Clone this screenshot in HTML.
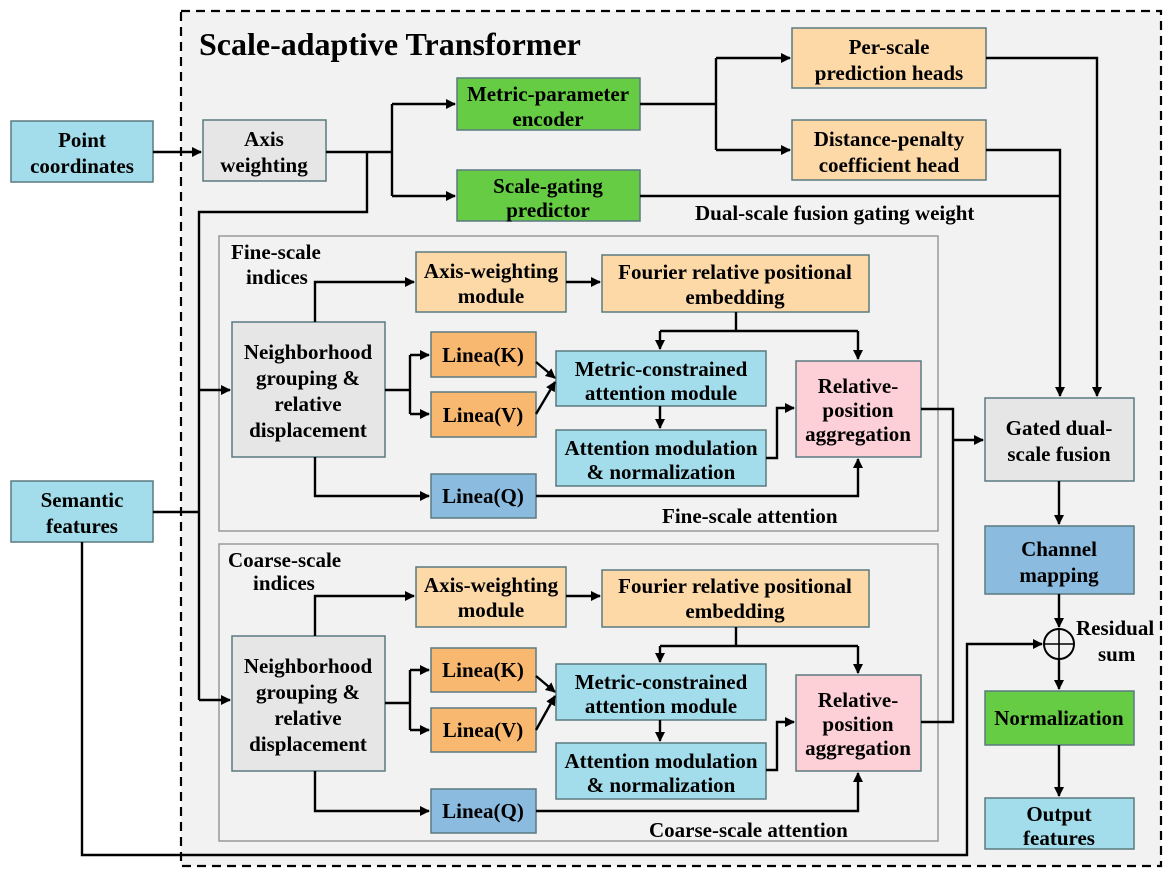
<!DOCTYPE html>
<html><head><meta charset="utf-8"><style>
html,body{margin:0;padding:0;background:#fff}
svg text{font-family:"Liberation Serif","DejaVu Serif",serif;font-weight:bold;fill:#000}
</style></head><body>
<svg width="1173" height="877" viewBox="0 0 1173 877" xmlns="http://www.w3.org/2000/svg" font-family="Liberation Serif, DejaVu Serif, serif">
<defs><marker id="a" markerWidth="10" markerHeight="10" refX="9" refY="5" orient="auto" markerUnits="userSpaceOnUse"><path d="M0,0 L10,5 L0,10 z" fill="#000"/></marker></defs>
<rect x="181" y="11" width="980" height="855" fill="#f2f2f2" stroke="#000" stroke-width="2.2" stroke-dasharray="9,6"/>
<text x="199" y="55" font-size="32">Scale-adaptive Transformer</text>
<rect x="219" y="236" width="719" height="295" fill="#f2f2f2" stroke="#999" stroke-width="1.5"/>
<rect x="219" y="544" width="719" height="297" fill="#f2f2f2" stroke="#999" stroke-width="1.5"/>
<g stroke="#5a7a80" stroke-width="1.5">
<rect x="11" y="121" width="142" height="61" fill="#a3dcea"/>
<rect x="11" y="481" width="142" height="61" fill="#a3dcea"/>
<rect x="203" y="120" width="123" height="61" fill="#e6e6e6"/>
<rect x="457" y="78" width="183" height="52" fill="#66cc44"/>
<rect x="457" y="170" width="183" height="51" fill="#66cc44"/>
<rect x="792" y="28" width="194" height="60" fill="#fdd9a8"/>
<rect x="792" y="120" width="194" height="60" fill="#fdd9a8"/>
<rect x="416" y="252" width="150" height="60" fill="#fdd9a8"/>
<rect x="602" y="255" width="267" height="57" fill="#fdd9a8"/>
<rect x="232" y="322" width="153" height="135" fill="#e6e6e6"/>
<rect x="431" y="332" width="105" height="45" fill="#f9b870"/>
<rect x="431" y="392" width="105" height="45" fill="#f9b870"/>
<rect x="556" y="351" width="210" height="55" fill="#a3dcea"/>
<rect x="556" y="430" width="210" height="56" fill="#a3dcea"/>
<rect x="796" y="361" width="125" height="96" fill="#fdd0d8"/>
<rect x="431" y="474" width="105" height="44" fill="#8cbbe0"/>
<rect x="416" y="567" width="150" height="60" fill="#fdd9a8"/>
<rect x="602" y="570" width="267" height="57" fill="#fdd9a8"/>
<rect x="232" y="636" width="153" height="135" fill="#e6e6e6"/>
<rect x="431" y="648" width="105" height="44" fill="#f9b870"/>
<rect x="431" y="708" width="105" height="44" fill="#f9b870"/>
<rect x="556" y="664" width="210" height="56" fill="#a3dcea"/>
<rect x="556" y="743" width="210" height="56" fill="#a3dcea"/>
<rect x="796" y="675" width="125" height="96" fill="#fdd0d8"/>
<rect x="431" y="789" width="105" height="44" fill="#8cbbe0"/>
<rect x="985" y="398" width="149" height="83" fill="#e6e6e6"/>
<rect x="985" y="526" width="149" height="68" fill="#8cbbe0"/>
<rect x="985" y="691" width="149" height="54" fill="#66cc44"/>
<rect x="985" y="798" width="149" height="51" fill="#a3dcea"/>
</g>
<g fill="none" stroke="#000" stroke-width="2.4">
<path d="M153,152 H201" marker-end="url(#a)"/>
<path d="M326,152 H392 M392,104 V196"/>
<path d="M392,104 H455" marker-end="url(#a)"/>
<path d="M392,196 H455" marker-end="url(#a)"/>
<path d="M367,152 V212 H199 V700"/>
<path d="M153,512 H199"/>
<path d="M199,390 H230" marker-end="url(#a)"/>
<path d="M199,700 H230" marker-end="url(#a)"/>
<path d="M640,104 H716 M716,58 V150"/>
<path d="M716,58 H790" marker-end="url(#a)"/>
<path d="M716,150 H790" marker-end="url(#a)"/>
<path d="M986,58 H1097 V396" marker-end="url(#a)"/>
<path d="M986,150 H1060 V396" marker-end="url(#a)"/>
<path d="M640,196 H1060"/>
<path d="M315,322 V282 H414" marker-end="url(#a)"/>
<path d="M566,282 H600" marker-end="url(#a)"/>
<path d="M736,312 V331 M660,331 H858"/>
<path d="M660,331 V349" marker-end="url(#a)"/>
<path d="M858,331 V359" marker-end="url(#a)"/>
<path d="M385,390 H410 M410,355 V414"/>
<path d="M410,355 H429" marker-end="url(#a)"/>
<path d="M410,414 H429" marker-end="url(#a)"/>
<path d="M536,362 L555,378" marker-end="url(#a)"/>
<path d="M536,414 L555,382" marker-end="url(#a)"/>
<path d="M660,406 V428" marker-end="url(#a)"/>
<path d="M766,458 H777 V408 H794" marker-end="url(#a)"/>
<path d="M315,457 V496 H429" marker-end="url(#a)"/>
<path d="M536,496 H858 V459" marker-end="url(#a)"/>
<path d="M315,636 V596 H414" marker-end="url(#a)"/>
<path d="M566,596 H600" marker-end="url(#a)"/>
<path d="M736,627 V646 M660,646 H858"/>
<path d="M660,646 V662" marker-end="url(#a)"/>
<path d="M858,646 V673" marker-end="url(#a)"/>
<path d="M385,703 H410 M410,670 V730"/>
<path d="M410,670 H429" marker-end="url(#a)"/>
<path d="M410,730 H429" marker-end="url(#a)"/>
<path d="M536,676 L555,692" marker-end="url(#a)"/>
<path d="M536,730 L555,696" marker-end="url(#a)"/>
<path d="M660,720 V741" marker-end="url(#a)"/>
<path d="M766,770 H777 V722 H794" marker-end="url(#a)"/>
<path d="M315,771 V811 H429" marker-end="url(#a)"/>
<path d="M536,811 H858 V773" marker-end="url(#a)"/>
<path d="M921,409 H953 V722 H921"/>
<path d="M953,440 H983" marker-end="url(#a)"/>
<path d="M1059,481 V524" marker-end="url(#a)"/>
<path d="M1059,594 V627" marker-end="url(#a)"/>
<path d="M1059,659 V689" marker-end="url(#a)"/>
<path d="M1059,745 V796" marker-end="url(#a)"/>
<path d="M82,542 V855 H967 V644 H1042" marker-end="url(#a)"/>
</g>
<circle cx="1059" cy="644" r="15" fill="none" stroke="#000" stroke-width="2"/>
<path d="M1044,644 H1074 M1059,629 V659" stroke="#000" stroke-width="1.6"/>
<g font-size="21" text-anchor="middle">
<text x="82" y="147">Point</text><text x="82" y="173">coordinates</text>
<text x="82" y="507">Semantic</text><text x="82" y="533">features</text>
<text x="264" y="146">Axis</text><text x="264" y="172">weighting</text>
<text x="548" y="101">Metric-parameter</text><text x="548" y="126">encoder</text>
<text x="548" y="193">Scale-gating</text><text x="548" y="217">predictor</text>
<text x="889" y="54">Per-scale</text><text x="889" y="80">prediction heads</text>
<text x="889" y="146">Distance-penalty</text><text x="889" y="172">coefficient head</text>
<text x="491" y="278">Axis-weighting</text><text x="491" y="303">module</text>
<text x="735" y="279">Fourier relative positional</text><text x="735" y="304">embedding</text>
<text x="308" y="359">Neighborhood</text><text x="308" y="385">grouping &amp;</text><text x="308" y="411">relative</text><text x="308" y="437">displacement</text>
<text x="483" y="362">Linea(K)</text><text x="483" y="422">Linea(V)</text><text x="483" y="503">Linea(Q)</text>
<text x="661" y="376">Metric-constrained</text><text x="661" y="400">attention module</text>
<text x="661" y="455">Attention modulation</text><text x="661" y="479">&amp; normalization</text>
<text x="858" y="393">Relative-</text><text x="858" y="417">position</text><text x="858" y="441">aggregation</text>
<text x="491" y="592">Axis-weighting</text><text x="491" y="617">module</text>
<text x="735" y="593">Fourier relative positional</text><text x="735" y="618">embedding</text>
<text x="308" y="673">Neighborhood</text><text x="308" y="699">grouping &amp;</text><text x="308" y="725">relative</text><text x="308" y="751">displacement</text>
<text x="483" y="677">Linea(K)</text><text x="483" y="737">Linea(V)</text><text x="483" y="818">Linea(Q)</text>
<text x="661" y="689">Metric-constrained</text><text x="661" y="713">attention module</text>
<text x="661" y="768">Attention modulation</text><text x="661" y="792">&amp; normalization</text>
<text x="858" y="707">Relative-</text><text x="858" y="731">position</text><text x="858" y="755">aggregation</text>
<text x="1059" y="435">Gated dual-</text><text x="1059" y="461">scale fusion</text>
<text x="1059" y="556">Channel</text><text x="1059" y="582">mapping</text>
<text x="1059" y="725">Normalization</text>
<text x="1059" y="821">Output</text><text x="1059" y="845">features</text>
</g>
<g font-size="21">
<text x="695" y="220">Dual-scale fusion gating weight</text>
<text x="231" y="259">Fine-scale</text><text x="246" y="284">indices</text>
<text x="228" y="567">Coarse-scale</text><text x="253" y="590">indices</text>
<text x="662" y="523">Fine-scale attention</text>
<text x="649" y="837">Coarse-scale attention</text>
<text x="1076" y="635">Residual</text><text x="1098" y="661">sum</text>
</g>
</svg>
</body></html>
